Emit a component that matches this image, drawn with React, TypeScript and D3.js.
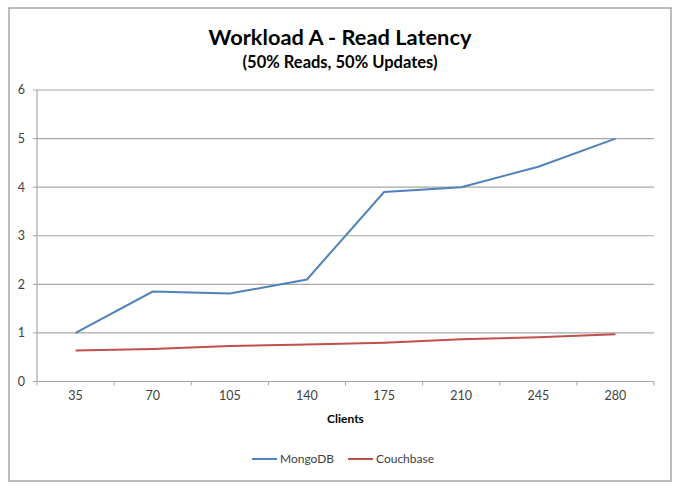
import React from "react";
import * as d3 from "d3";

const categories = ["35", "70", "105", "140", "175", "210", "245", "280"];
const mongoValues = [1.0, 1.85, 1.81, 2.1, 3.9, 4.0, 4.42, 5.0];
const couchValues = [0.64, 0.67, 0.73, 0.76, 0.8, 0.87, 0.91, 0.97];
const yTicks = [0, 1, 2, 3, 4, 5, 6];
const seriesNames = ["MongoDB", "Couchbase"];
const seriesColors = ["#4F81BD", "#C0504D"];

const W = 680;
const H = 488;
const plot = { left: 37, right: 654, top: 90, bottom: 381.5 };
const FONT = "Lato, 'Open Sans', sans-serif";

export default function App() {
  const x = d3.scaleBand<string>().domain(categories).range([plot.left, plot.right]);
  const y = d3.scaleLinear().domain([0, 6]).range([plot.bottom, plot.top]);
  const line = d3
    .line<number>()
    .x((_, i) => (x(categories[i]) as number) + x.bandwidth() / 2)
    .y((v) => y(v));
  const series = [mongoValues, couchValues];
  const tickXs = d3.range(categories.length + 1).map((i) => plot.left + i * x.bandwidth());

  return (
    <svg
      width={W}
      height={H}
      style={{ position: "absolute", left: 0, top: 0, background: "#fff" }}
      fontFamily={FONT}
    >
      <rect x={0} y={0} width={W} height={H} fill="#fff" />
      <rect x={9} y={8} width={662} height={473} fill="#fff" stroke="#A6A6A6" strokeWidth={1.5} />
      <text x={340} y={45} textAnchor="middle" fontSize={21.8} fontWeight="bold" fill="#000">
        Workload A - Read Latency
      </text>
      <text x={340} y={68} textAnchor="middle" fontSize={16.5} fontWeight="bold" fill="#000">
        (50% Reads, 50% Updates)
      </text>
      {yTicks.map((t) => (
        <g key={t}>
          {t > 0 && (
            <line x1={plot.left} x2={plot.right} y1={y(t)} y2={y(t)} stroke="#A6A6A6" strokeWidth={1.2} />
          )}
          <line x1={plot.left - 4} x2={plot.left} y1={y(t)} y2={y(t)} stroke="#A6A6A6" strokeWidth={1} />
          <text x={25} y={y(t)} dy="0.35em" textAnchor="end" fontSize={12.5} fill="#404040">
            {t}
          </text>
        </g>
      ))}
      <line x1={plot.left} x2={plot.left} y1={plot.top} y2={plot.bottom} stroke="#A6A6A6" strokeWidth={1.2} />
      <line x1={plot.left} x2={plot.right} y1={plot.bottom} y2={plot.bottom} stroke="#A6A6A6" strokeWidth={1.2} />
      {tickXs.map((tx, i) => (
        <line key={i} x1={tx} x2={tx} y1={plot.bottom} y2={plot.bottom + 4} stroke="#A6A6A6" strokeWidth={1} />
      ))}
      {categories.map((c) => (
        <text
          key={c}
          x={(x(c) as number) + x.bandwidth() / 2}
          y={400}
          textAnchor="middle"
          fontSize={12.5}
          fill="#404040"
        >
          {c}
        </text>
      ))}
      <text x={345.5} y={423} textAnchor="middle" fontSize={12} fontWeight="bold" fill="#000">
        Clients
      </text>
      {series.map((s, i) => (
        <path key={i} d={line(s) || ""} fill="none" stroke={seriesColors[i]} strokeWidth={2} />
      ))}
      {seriesNames.map((n, i) => {
        const lx = i === 0 ? 252 : 348;
        return (
          <g key={n}>
            <line x1={lx} x2={lx + 25} y1={459} y2={459} stroke={seriesColors[i]} strokeWidth={2} />
            <text x={lx + 28} y={459} dy="0.35em" fontSize={12} fill="#404040">
              {n}
            </text>
          </g>
        );
      })}
    </svg>
  );
}
